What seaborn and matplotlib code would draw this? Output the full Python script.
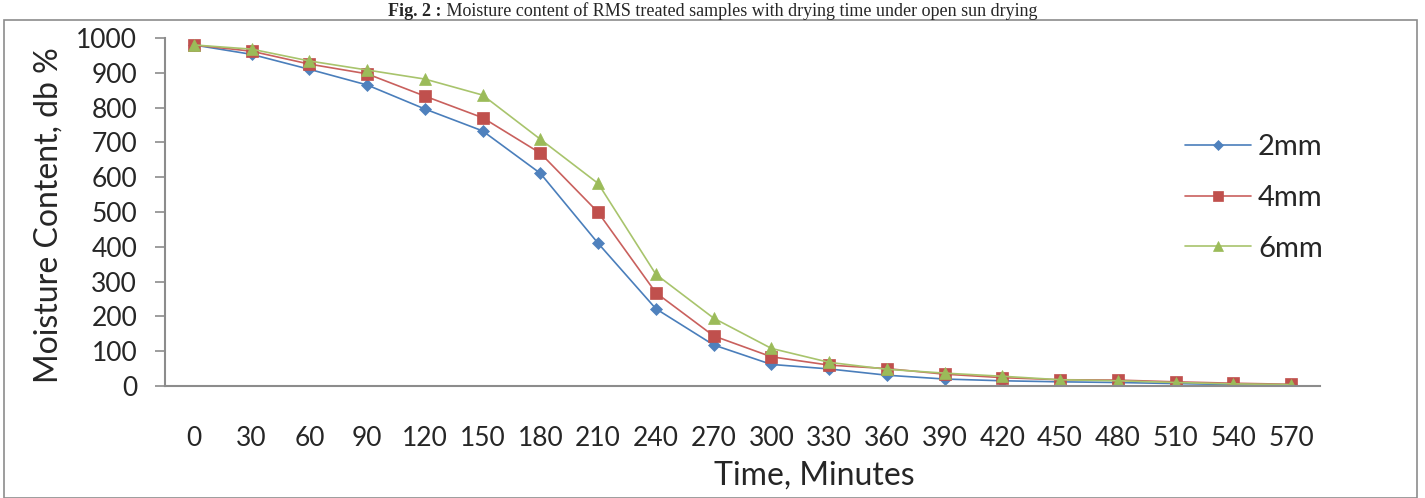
import matplotlib
matplotlib.use("Agg")
import matplotlib.pyplot as plt
from matplotlib.patches import Rectangle
import seaborn as sns
import pandas as pd
import numpy as np

# ---- data ----
time_labels = ["0", "30", "60", "90", "120", "150", "180", "210", "240", "270",
               "300", "330", "360", "390", "420", "450", "480", "510", "540", "570"]
mc_2mm = [980, 953, 910, 865, 796, 733, 611, 410, 222, 118,
          62, 49, 31, 20, 15, 12, 10, 7, 4, 2]
mc_4mm = [980, 962, 925, 897, 833, 771, 669, 499, 268, 144,
          84, 60, 50, 34, 24, 18, 17, 12, 8, 5]
mc_6mm = [980, 968, 934, 908, 882, 836, 709, 582, 321, 195,
          108, 68, 48, 37, 28, 18, 15, 10, 6, 4]
series_names = ["2mm", "4mm", "6mm"]
caption_bold = "Fig. 2 :"
caption_rest = " Moisture content of RMS treated samples with drying time under open sun drying"

df = pd.DataFrame({
    "idx": np.tile(np.arange(len(time_labels)), 3),
    "mc": mc_2mm + mc_4mm + mc_6mm,
    "size": np.repeat(series_names, len(time_labels)),
})

sns.set_theme(style="white")
plt.rcParams["font.family"] = ["Lato", "DejaVu Sans"]

W, H = 1425, 498
fig = plt.figure(figsize=(W / 100, H / 100), dpi=100)
ax = fig.add_axes([165 / W, 1 - 386 / H, 1155 / W, 348 / H])

styles = {
    "2mm": dict(line="#4A7EBB", face="#4F81BD", marker="D", ms=6),
    "4mm": dict(line="#C9605D", face="#C0504D", marker="s", ms=8.5),
    "6mm": dict(line="#A8C46C", face="#9BBB59", marker="^", ms=8.5),
}
for name in series_names:
    st = styles[name]
    sub = df[df["size"] == name]
    sns.lineplot(data=sub, x="idx", y="mc", ax=ax, color=st["line"], lw=1.2,
                 marker=st["marker"], markersize=st["ms"],
                 markerfacecolor=st["face"], markeredgecolor=st["face"],
                 markeredgewidth=0.5, label=name)

ax.set_xlim(-0.5, len(time_labels) - 0.5)
ax.set_ylim(0, 1000)
ax.set_yticks(range(0, 1001, 100))
ax.set_xticks(np.arange(len(time_labels)))
ax.set_xticklabels(time_labels, fontsize=19)
ax.set_xticks(np.arange(-0.5, len(time_labels), 1.0), minor=True)
ax.tick_params(axis="x", which="major", length=0, pad=29)
ax.tick_params(axis="x", which="minor", length=7, width=1.2, color="#8C8C8C", direction="out")
ax.tick_params(axis="y", which="major", length=7, width=1.2, color="#8C8C8C",
               direction="out", labelsize=19, pad=13, left=True)
for sp in ["top", "right"]:
    ax.spines[sp].set_visible(False)
for sp in ["left", "bottom"]:
    ax.spines[sp].set_color("#8C8C8C")
    ax.spines[sp].set_linewidth(1.5)

ax.set_xlabel("Time, Minutes", fontsize=23)
ax.xaxis.set_label_coords((814 - 165) / 1155, (386 - 461) / 348)
ax.set_ylabel("Moisture Content, db %", fontsize=23)
ax.yaxis.set_label_coords((64 - 165) / 1155, (386 - 215) / 348)

leg = ax.legend(loc="upper left", bbox_to_anchor=((1185 - 165) / 1155, (386 - 134) / 348),
                frameon=False, fontsize=21, handlelength=2.25, labelspacing=0.85,
                handletextpad=0.25, borderpad=0, borderaxespad=0, markerscale=0.85)

# outer frame
fig.patches.append(Rectangle((4 / W, 0), 1413 / W, 1 - 20 / H, transform=fig.transFigure,
                             fill=False, edgecolor="#8C8C8C", linewidth=1.2))

# caption above the frame: bold lead + regular rest, centred together
cap_kw = dict(fontsize=13, family="Liberation Serif", va="baseline")
t1 = fig.text(0, 1 - 16 / H, caption_bold, fontweight="bold", ha="left", **cap_kw)
t2 = fig.text(0, 1 - 16 / H, caption_rest, ha="left", **cap_kw)
fig.canvas.draw()
r = fig.canvas.get_renderer()
w1 = t1.get_window_extent(r).width
w2 = t2.get_window_extent(r).width
x0 = (W - (w1 + w2)) / 2
t1.set_x(x0 / W)
t2.set_x((x0 + w1) / W)

fig.savefig("out.png", dpi=100)
